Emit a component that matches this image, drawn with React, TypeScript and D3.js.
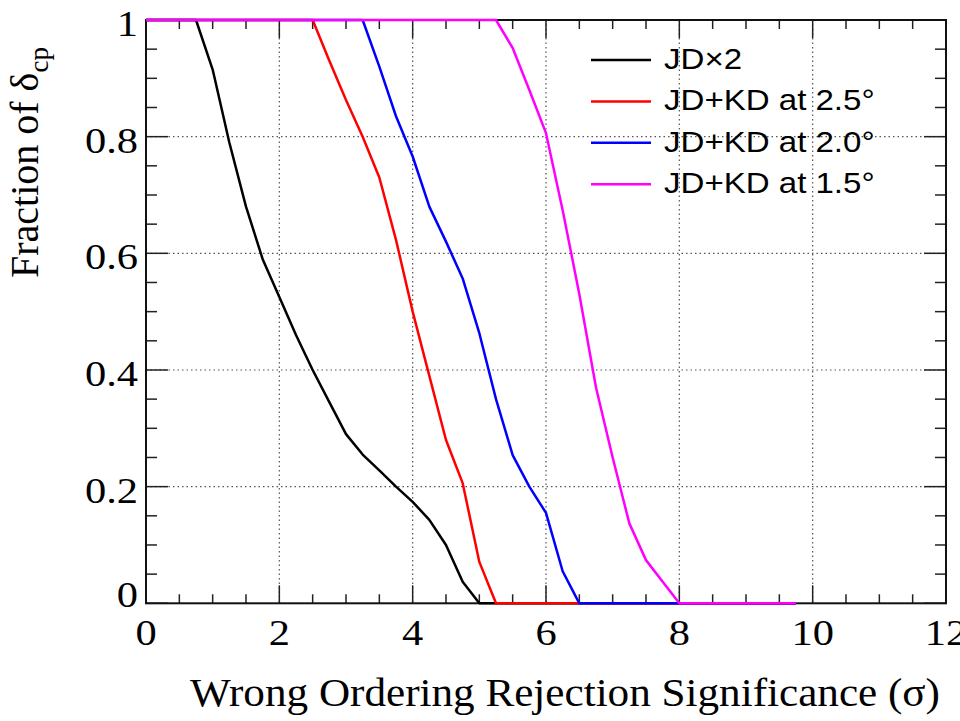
import React from "react";
import * as d3 from "d3";

const seriesNames = ["JD\u00d72", "JD+KD at 2.5\u00b0", "JD+KD at 2.0\u00b0", "JD+KD at 1.5\u00b0"];
const seriesColors = ["#000000", "#ff0000", "#0000ff", "#ff00ff"];

const jdx2: [number, number][] = [
  [0, 1], [0.75, 1], [1.0, 0.915], [1.25, 0.79], [1.5, 0.68], [1.75, 0.59], [2.0, 0.525],
  [2.25, 0.46], [2.5, 0.4], [2.75, 0.345], [3.0, 0.29], [3.25, 0.255], [3.5, 0.228],
  [3.75, 0.2], [4.0, 0.174], [4.25, 0.143], [4.5, 0.1], [4.75, 0.037], [5.0, 0], [9.75, 0],
];
const kd25: [number, number][] = [
  [0, 1], [2.5, 1], [2.75, 0.93], [3.0, 0.863], [3.25, 0.8], [3.5, 0.73], [3.75, 0.623],
  [4.0, 0.5], [4.25, 0.39], [4.5, 0.28], [4.75, 0.206], [5.0, 0.071], [5.25, 0], [9.75, 0],
];
const kd20: [number, number][] = [
  [0, 1], [3.25, 1], [3.5, 0.92], [3.75, 0.835], [4.0, 0.766], [4.25, 0.68], [4.5, 0.62],
  [4.75, 0.557], [5.0, 0.463], [5.25, 0.35], [5.5, 0.254], [5.75, 0.2], [6.0, 0.155],
  [6.25, 0.055], [6.5, 0], [9.75, 0],
];
const kd15: [number, number][] = [
  [0, 1], [5.25, 1], [5.5, 0.952], [5.75, 0.88], [6.0, 0.806], [6.25, 0.674], [6.5, 0.53],
  [6.75, 0.37], [7.0, 0.25], [7.25, 0.137], [7.5, 0.074], [7.75, 0.037], [8.0, 0], [9.75, 0],
];
const seriesData = [jdx2, kd25, kd20, kd15];

const xMajorTicks = [0, 2, 4, 6, 8, 10, 12];
const yMajorTicks = [0, 0.2, 0.4, 0.6, 0.8, 1];
const yTickLabels = ["0", "0.2", "0.4", "0.6", "0.8", "1"];
const xTickLabels = ["0", "2", "4", "6", "8", "10", "12"];

const X0 = 146, X1 = 946, Y0 = 603.3, Y1 = 20;

export default function App() {
  const x = d3.scaleLinear().domain([0, 12]).range([X0, X1]);
  const y = d3.scaleLinear().domain([0, 1]).range([Y0, Y1]);
  const xMinor = d3.range(0, 12.001, 0.5);
  const yMinor = d3.range(0, 1.0001, 0.05);
  const line = d3.line<[number, number]>().x((d) => x(d[0])).y((d) => y(d[1]));
  const serif = "'Liberation Serif', 'Times New Roman', serif";
  const sans = "'Liberation Sans', Arial, sans-serif";
  const isMajorX = (v: number) => Math.abs(v / 2 - Math.round(v / 2)) < 1e-6;
  const isMajorY = (v: number) => Math.abs(v / 0.2 - Math.round(v / 0.2)) < 1e-6;

  return (
    <svg width={960} height={721} style={{ position: "absolute", left: 0, top: 0, background: "#fff" }}>
      <rect x={0} y={0} width={960} height={721} fill="#fff" />
      {/* grid */}
      {xMajorTicks.filter((v) => v > 0 && v < 12).map((v) => (
        <line key={"gx" + v} x1={x(v)} x2={x(v)} y1={Y1} y2={Y0} stroke="#555" strokeWidth={1.2} strokeDasharray="1.5,3" />
      ))}
      {yMajorTicks.filter((v) => v > 0 && v < 1).map((v) => (
        <line key={"gy" + v} x1={X0} x2={X1} y1={y(v)} y2={y(v)} stroke="#555" strokeWidth={1.2} strokeDasharray="1.5,3" />
      ))}
      {/* ticks */}
      {xMinor.map((v) => {
        const L = isMajorX(v) ? 18 : 9;
        return (
          <g key={"tx" + v}>
            <line x1={x(v)} x2={x(v)} y1={Y0} y2={Y0 - L} stroke="#222" strokeWidth={1.5} />
            <line x1={x(v)} x2={x(v)} y1={Y1} y2={Y1 + L} stroke="#222" strokeWidth={1.5} />
          </g>
        );
      })}
      {yMinor.map((v) => {
        const L = isMajorY(v) ? 22 : 11;
        return (
          <g key={"ty" + v}>
            <line x1={X0} x2={X0 + L} y1={y(v)} y2={y(v)} stroke="#222" strokeWidth={1.5} />
            <line x1={X1} x2={X1 - L} y1={y(v)} y2={y(v)} stroke="#222" strokeWidth={1.5} />
          </g>
        );
      })}
      <rect x={X0} y={Y1} width={X1 - X0} height={Y0 - Y1} fill="none" stroke="#111" strokeWidth={2} />
      {/* curves */}
      {seriesData.map((d, i) => (
        <path key={"s" + i} d={line(d) || ""} fill="none" stroke={seriesColors[i]} strokeWidth={2.5} strokeLinejoin="round" />
      ))}
      {/* x tick labels */}
      {xMajorTicks.map((v, i) => (
        <g key={"xl" + v} transform={`translate(${x(v)},645) scale(1.18,1)`}>
          <text textAnchor="middle" fontFamily={serif} fontSize={36} fill="#000">{xTickLabels[i]}</text>
        </g>
      ))}
      {/* y tick labels */}
      {yMajorTicks.map((v, i) => (
        <g key={"yl" + v} transform={`translate(138,${y(v) + (v === 0 ? 4 : 16)}) scale(1.18,1)`}>
          <text textAnchor="end" fontFamily={serif} fontSize={36} fill="#000">{yTickLabels[i]}</text>
        </g>
      ))}
      {/* axis titles */}
      <text x={565} y={706} textAnchor="middle" fontFamily={serif} fontSize={40} fill="#000" textLength={750} lengthAdjust="spacingAndGlyphs">
        Wrong Ordering Rejection Significance (σ)
      </text>
      <g transform="translate(38,278) rotate(-90)">
        <text x={0} y={0} fontFamily={serif} fontSize={40} fill="#000">
          Fraction of δ
          <tspan fontSize={27} dy={10}>cp</tspan>
        </text>
      </g>
      {/* legend */}
      {seriesNames.map((n, i) => {
        const ly = 60 + i * 41.4;
        return (
          <g key={"lg" + i}>
            <line x1={591} x2={651} y1={ly} y2={ly} stroke={seriesColors[i]} strokeWidth={2.5} />
            <g transform={`translate(664,${ly + 9}) scale(1.14,1)`}>
              <text fontFamily={sans} fontSize={29} fill="#000">{n}</text>
            </g>
          </g>
        );
      })}
    </svg>
  );
}
